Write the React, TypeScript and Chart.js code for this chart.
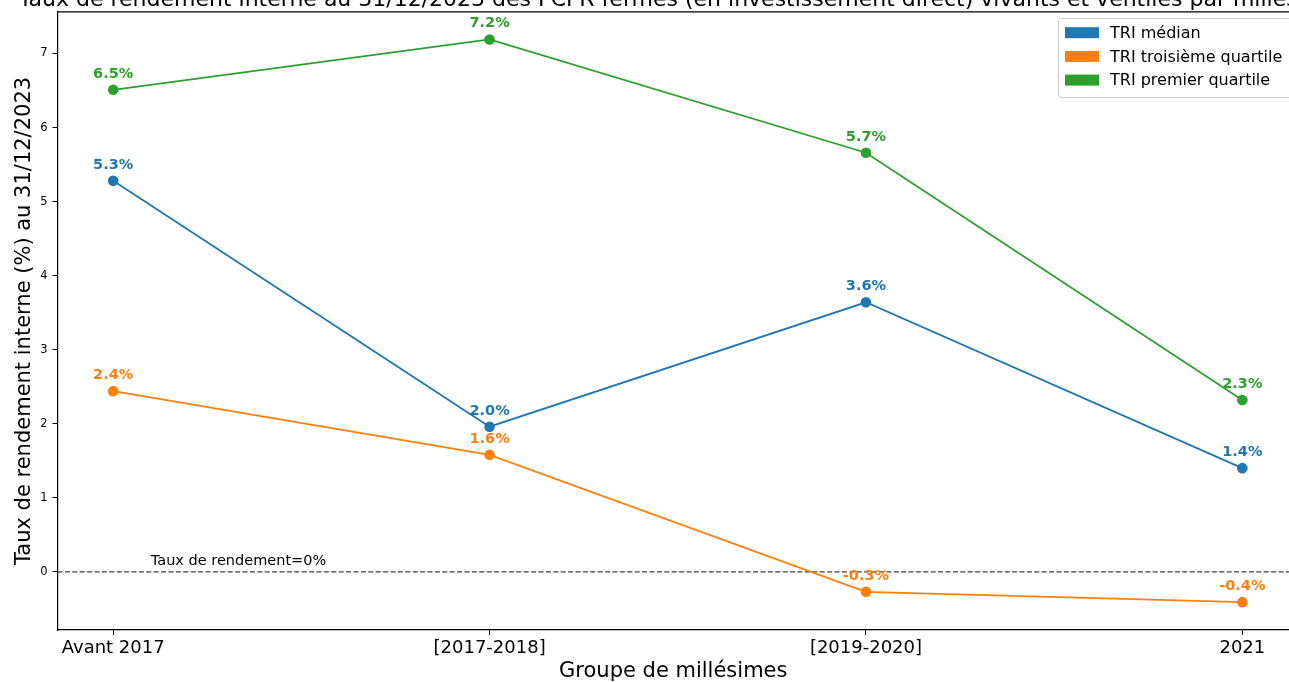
import React, { useEffect, useRef } from 'react';
import { Chart, registerables } from 'chart.js';

Chart.register(...registerables);

const categories = ['Avant 2017', '[2017-2018]', '[2019-2020]', '2021'];
const medianValues = [5.28, 1.96, 3.64, 1.4];
const thirdQuartileValues = [2.44, 1.58, -0.27, -0.41];
const firstQuartileValues = [6.51, 7.19, 5.66, 2.32];
const seriesLabels = ['TRI médian', 'TRI troisième quartile', 'TRI premier quartile'];
const seriesColors = ['#1f77b4', '#ff7f0e', '#2ca02c'];
const yTickValues = [0, 1, 2, 3, 4, 5, 6, 7];
const titleText =
  'Taux de rendement interne au 31/12/2023 des FCPR fermés (en investissement direct) vivants et ventilés par millésime';
const yTitle = 'Taux de rendement interne (%) au 31/12/2023';
const xTitle = 'Groupe de millésimes';
const zeroLineLabel = 'Taux de rendement=0%';

const FONT = '"DejaVu Sans", Verdana, sans-serif';

const overlayPlugin = {
  id: 'overlay',
  beforeDatasetsDraw(chart: any) {
    const { ctx, chartArea, scales } = chart;
    const y0 = scales.y.getPixelForValue(0);
    ctx.save();
    ctx.strokeStyle = 'rgba(0,0,0,0.75)';
    ctx.lineWidth = 1.2;
    ctx.setLineDash([5, 2.4]);
    ctx.beginPath();
    ctx.moveTo(chartArea.left, y0);
    ctx.lineTo(chartArea.right, y0);
    ctx.stroke();
    ctx.setLineDash([]);
    ctx.fillStyle = '#000';
    ctx.font = `14.5px ${FONT}`;
    ctx.textAlign = 'left';
    ctx.textBaseline = 'alphabetic';
    ctx.fillText(zeroLineLabel, scales.x.getPixelForValue(0.1), y0 - 6.5);
    ctx.restore();
  },
  afterDatasetsDraw(chart: any) {
    const { ctx } = chart;
    ctx.save();
    ctx.font = `bold 14.5px ${FONT}`;
    ctx.textAlign = 'center';
    ctx.textBaseline = 'alphabetic';
    chart.data.datasets.forEach((ds: any, di: number) => {
      const meta = chart.getDatasetMeta(di);
      ctx.fillStyle = ds.borderColor;
      meta.data.forEach((pt: any, i: number) => {
        const v = ds.data[i].y;
        ctx.fillText(`${v.toFixed(1)}%`, pt.x, pt.y - 12);
      });
    });
    ctx.restore();
  },
  afterDraw(chart: any) {
    const { ctx, chartArea, scales } = chart;
    ctx.save();
    // top spine
    ctx.strokeStyle = '#000';
    ctx.lineWidth = 1.2;
    ctx.beginPath();
    ctx.moveTo(chartArea.left, chartArea.top);
    ctx.lineTo(chartArea.right, chartArea.top);
    ctx.stroke();
    // title (cut off by the top edge)
    ctx.fillStyle = '#000';
    ctx.font = `22px ${FONT}`;
    ctx.textAlign = 'center';
    ctx.textBaseline = 'alphabetic';
    ctx.fillText(titleText, scales.x.getPixelForValue(1.5) + 1, 5.5);
    // legend
    const bx = 1058.5;
    const by = 18.5;
    const bw = 260;
    const bh = 79;
    const r = 3.5;
    ctx.beginPath();
    ctx.moveTo(bx + r, by);
    ctx.lineTo(bx + bw - r, by);
    ctx.arcTo(bx + bw, by, bx + bw, by + r, r);
    ctx.lineTo(bx + bw, by + bh - r);
    ctx.arcTo(bx + bw, by + bh, bx + bw - r, by + bh, r);
    ctx.lineTo(bx + r, by + bh);
    ctx.arcTo(bx, by + bh, bx, by + bh - r, r);
    ctx.lineTo(bx, by + r);
    ctx.arcTo(bx, by, bx + r, by, r);
    ctx.closePath();
    ctx.fillStyle = 'rgba(255,255,255,0.8)';
    ctx.fill();
    ctx.strokeStyle = '#cccccc';
    ctx.lineWidth = 1;
    ctx.stroke();
    ctx.font = `16px ${FONT}`;
    ctx.textAlign = 'left';
    ctx.textBaseline = 'middle';
    chart.data.datasets.forEach((ds: any, i: number) => {
      const cy = 32.7 + i * 23.7;
      ctx.fillStyle = ds.borderColor;
      ctx.fillRect(1065, cy - 5.5, 34, 11);
      ctx.fillStyle = '#000';
      ctx.fillText(ds.label, 1110, cy + 1);
    });
    ctx.restore();
  },
};

export default function App() {
  const canvasRef = useRef<HTMLCanvasElement | null>(null);

  useEffect(() => {
    const canvas = canvasRef.current;
    if (!canvas) return;
    const seriesValues = [medianValues, thirdQuartileValues, firstQuartileValues];
    const chart = new Chart(canvas, {
      type: 'line',
      data: {
        datasets: seriesValues.map((vals, si) => ({
          label: seriesLabels[si],
          data: vals.map((v, i) => ({ x: i, y: v })),
          borderColor: seriesColors[si],
          backgroundColor: seriesColors[si],
          pointBackgroundColor: seriesColors[si],
          pointBorderColor: seriesColors[si],
          pointBorderWidth: 0,
          pointRadius: 5.3,
          pointHoverRadius: 5.3,
          borderWidth: 1.8,
          tension: 0,
          fill: false,
        })),
      },
      options: {
        animation: false,
        responsive: false,
        maintainAspectRatio: false,
        devicePixelRatio: 1,
        layout: { autoPadding: false, padding: { top: 11, left: 0, right: 0, bottom: 0 } },
        plugins: {
          legend: { display: false },
          tooltip: { enabled: false },
          title: { display: false },
        },
        events: [],
        scales: {
          x: {
            type: 'linear',
            min: -0.148,
            max: 3.124,
            afterBuildTicks: (s: any) => {
              s.ticks = categories.map((_, i) => ({ value: i }));
            },
            afterFit: (s: any) => {
              s.height = 52;
            },
            ticks: {
              callback: (v: any) => categories[Math.round(Number(v))] ?? '',
              font: { family: FONT, size: 18 },
              color: '#000',
              padding: 2.2,
              maxRotation: 0,
              autoSkip: false,
            },
            grid: { drawOnChartArea: false, tickLength: 5, color: '#000', lineWidth: 1 },
            border: { color: '#000', width: 1.2 },
            title: {
              display: true,
              text: xTitle,
              color: '#000',
              font: { family: FONT, size: 21, lineHeight: 1 },
              padding: { top: 0, bottom: 0 },
            },
          },
          y: {
            type: 'linear',
            min: -0.786,
            max: 7.562,
            afterBuildTicks: (s: any) => {
              s.ticks = yTickValues.map((v) => ({ value: v }));
            },
            afterFit: (s: any) => {
              s.width = 57.5;
            },
            ticks: {
              callback: (v: any) => String(v),
              font: { family: FONT, size: 11.5 },
              color: '#000',
              padding: 5,
              autoSkip: false,
            },
            grid: { drawOnChartArea: false, tickLength: 5, color: '#000', lineWidth: 1 },
            border: { color: '#000', width: 1.2 },
            title: {
              display: true,
              text: yTitle,
              color: '#000',
              font: { family: FONT, size: 21, lineHeight: 1 },
              padding: { top: 14.5, bottom: 0 },
            },
          },
        },
      },
      plugins: [overlayPlugin],
    });
    return () => chart.destroy();
  }, []);

  return (
    <div
      style={{
        position: 'fixed',
        left: 0,
        top: 0,
        width: 1289,
        height: 682,
        overflow: 'hidden',
        background: '#fff',
      }}
    >
      <canvas ref={canvasRef} width={1289} height={682} style={{ display: 'block', width: 1289, height: 682 }} />
    </div>
  );
}
